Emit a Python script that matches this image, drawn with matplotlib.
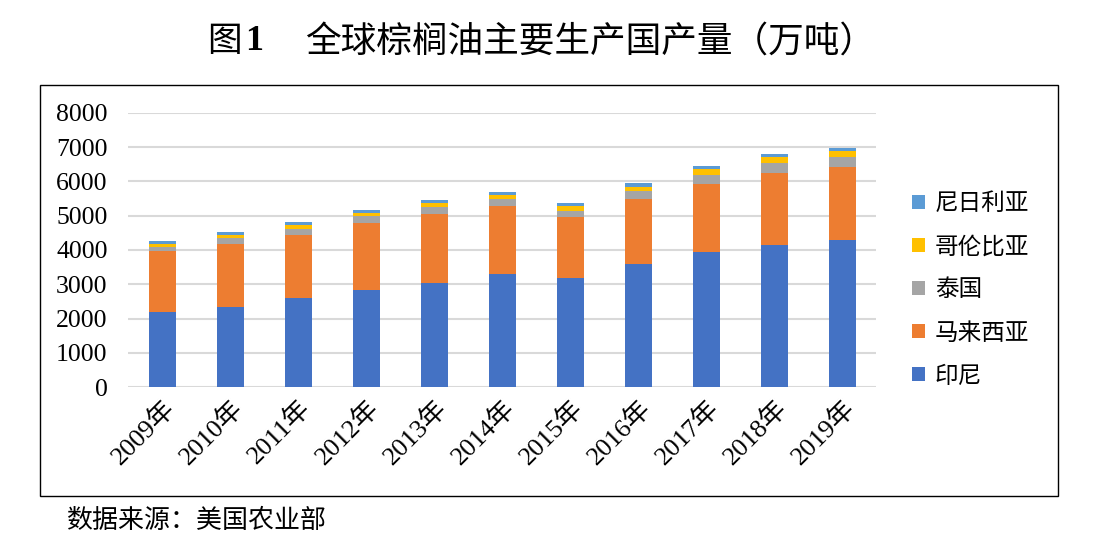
import matplotlib
matplotlib.use("Agg")
import matplotlib.pyplot as plt
from matplotlib.patches import Rectangle, Patch
import numpy as np

# data (万吨)
years = ["2009年", "2010年", "2011年", "2012年", "2013年", "2014年",
         "2015年", "2016年", "2017年", "2018年", "2019年"]
indonesia = [2200, 2340, 2610, 2840, 3040, 3300, 3190, 3600, 3945, 4150, 4290]
malaysia = [1775, 1835, 1825, 1935, 2015, 1985, 1775, 1885, 1990, 2090, 2125]
thailand = [120, 175, 190, 215, 200, 205, 175, 235, 262, 290, 290]
colombia = [85, 88, 95, 97, 104, 115, 145, 115, 160, 175, 175]
nigeria = [88, 88, 85, 91, 93, 88, 88, 117, 92, 90, 90]

series = [("印尼", indonesia, "#4472C4"),
          ("马来西亚", malaysia, "#ED7D31"),
          ("泰国", thailand, "#A5A5A5"),
          ("哥伦比亚", colombia, "#FFC000"),
          ("尼日利亚", nigeria, "#5B9BD5")]

serif_cjk = ["Liberation Serif", "Noto Sans CJK SC"]
cjk = ["Noto Sans CJK SC", "DejaVu Sans"]

fig = plt.figure(figsize=(11, 5.43), dpi=100)
ax = fig.add_axes([0.1168, 0.2867, 0.68, 0.5058])

x = np.arange(len(years))
bottom = np.zeros(len(years))
handles = []
for name, vals, color in series:
    ax.bar(x, vals, width=0.4, bottom=bottom, color=color, zorder=3)
    bottom += np.array(vals)
    handles.append(Patch(facecolor=color, label=name))

ax.set_xlim(-0.5, len(years) - 0.5)
ax.set_ylim(0, 8000)
ax.set_yticks(range(0, 8001, 1000))
ax.yaxis.grid(True, color="#D9D9D9", linewidth=1.5, zorder=0)
ax.set_axisbelow(True)
for s in ax.spines.values():
    s.set_visible(False)
ax.tick_params(axis="both", length=0)
ax.tick_params(axis="y", pad=15)
ax.set_yticklabels([str(v) for v in range(0, 8001, 1000)],
                   family="Liberation Serif", fontsize=18.5)
ax.set_xticks(x)
ax.set_xticklabels(years, rotation=45, ha="right", va="top",
                   rotation_mode="anchor", family=serif_cjk, fontsize=19)
ax.tick_params(axis="x", pad=6)

leg = fig.legend(handles=handles[::-1], loc="center left",
                 bbox_to_anchor=(0.81, 0.466), frameon=False,
                 prop={"family": cjk, "size": 17},
                 handlelength=0.55, handleheight=0.55, handletextpad=0.4,
                 labelspacing=0.85)

# chart border
fig.patches.append(Rectangle((40 / 1100, 1 - 496 / 543), 1018 / 1100, 411 / 543,
                             transform=fig.transFigure, fill=False,
                             edgecolor="black", linewidth=1.0))

# title
fig.text(207 / 1100, 1 - 42 / 543, "图", family=cjk, fontsize=25,
         ha="left", va="center")
fig.text(245 / 1100, 1 - 42 / 543, "1", family="Liberation Serif",
         fontweight="bold", fontsize=26, ha="left", va="center")
fig.text(305 / 1100, 1 - 42 / 543, "全球棕榈油主要生产国产量（万吨）",
         family=cjk, fontsize=25.7, ha="left", va="center")

fig.text(66 / 1100, 1 - 520 / 543, "数据来源：美国农业部", family=cjk,
         fontsize=18.7, ha="left", va="center")

fig.savefig("out.png", dpi=100)
